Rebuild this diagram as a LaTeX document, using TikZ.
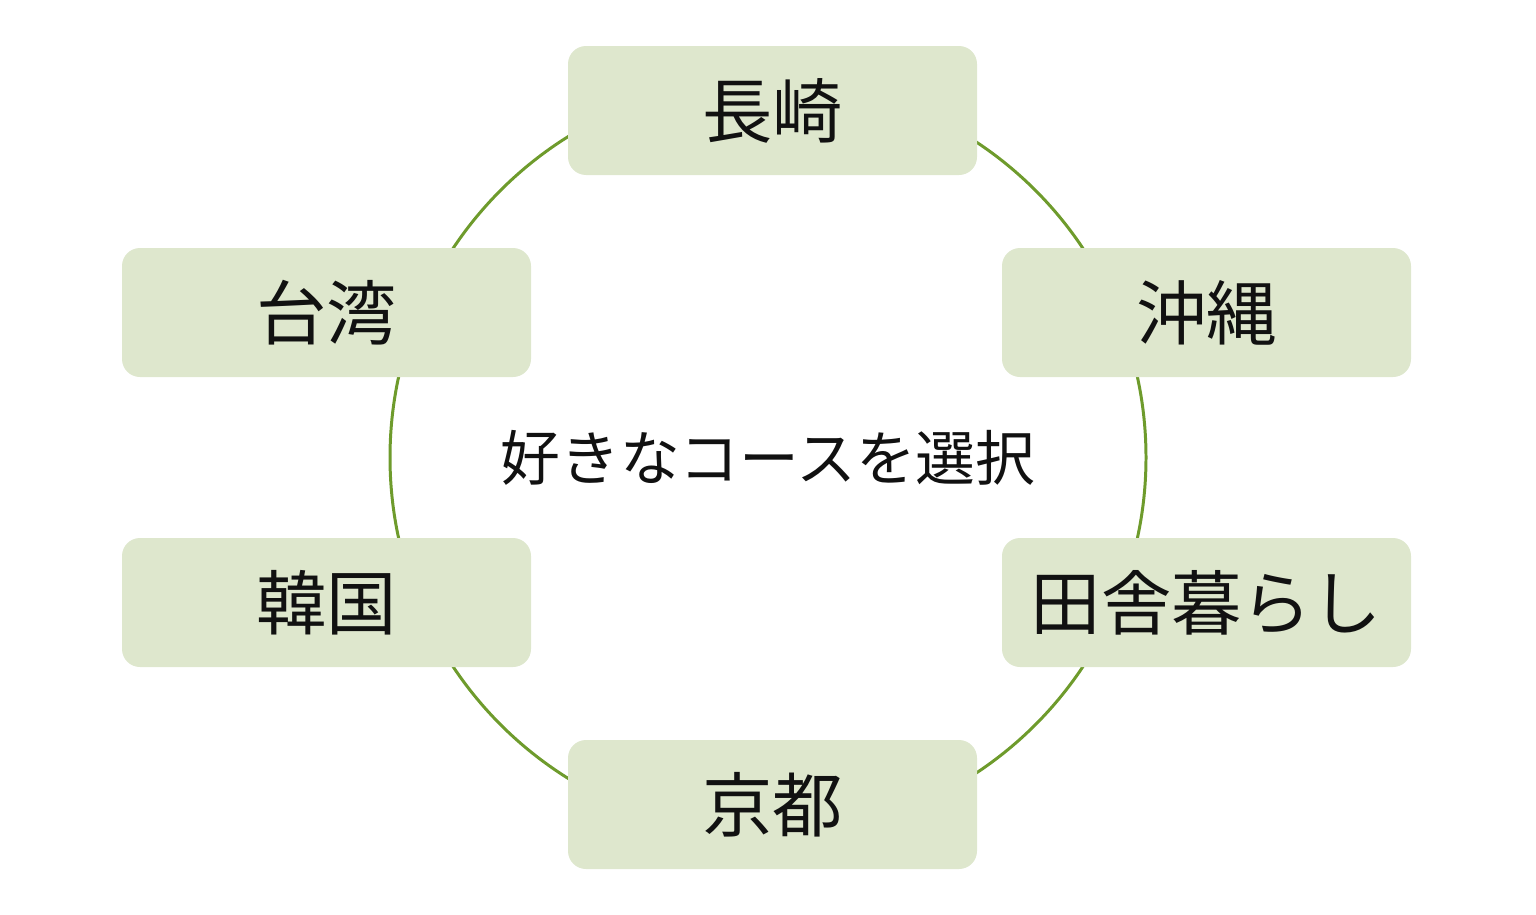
\documentclass[tikz,border=0pt]{standalone}
\usepackage{fontspec}
\usepackage{xcolor}
\usepackage{tikz}
\setmainfont{Noto Sans CJK JP}
\definecolor{CourseFill}{HTML}{DEE7CD}
\definecolor{RingLine}{HTML}{6E9B2C}
\definecolor{LabelInk}{HTML}{111111}
\tikzset{
  figure/.style={font=\fontsize{20pt}{24pt}\selectfont,text=LabelInk},
  course/.style={fill=CourseFill,rounded corners=1.8mm,minimum width=4.09cm,
    minimum height=1.29cm,inner sep=0pt,align=center},
  ring/.style={draw=RingLine,line width=0.85pt},
}
\begin{document}
\begin{tikzpicture}[figure]
  \useasboundingbox (0,0) rectangle (15.36,9.14);

  \node[font=\fontsize{17pt}{20pt}\selectfont] (hub) at (7.68,4.565) {好きなコースを選択};
  \draw[ring] (hub.center) circle[radius=3.78cm];

  \node[course] (nagasaki) at (7.725,8.035) {長崎};
  \node[course] (okinawa)  at (12.065,6.015) {沖縄};
  \node[course] (inaka)    at (12.065,3.115) {田舎暮らし};
  \node[course] (kyoto)    at (7.725,1.095) {京都};
  \node[course] (kankoku)  at (3.265,3.115) {韓国};
  \node[course] (taiwan)   at (3.265,6.015) {台湾};
\end{tikzpicture}
\end{document}
